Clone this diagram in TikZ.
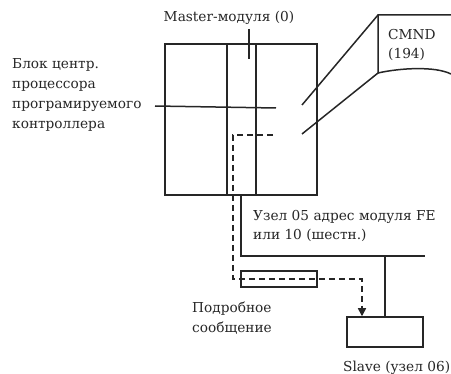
\documentclass[tikz,border=0pt]{standalone}
\usepackage{fontspec}
\setmainfont{DejaVu Serif}
\usetikzlibrary{arrows.meta}
\begin{document}
\begin{tikzpicture}[x=1pt,y=-1pt,
  ln/.style={line width=1.5pt,black!85},
  dsh/.style={line width=1.5pt,black!85,dash pattern=on 6pt off 4pt},
  lbl/.style={font=\fontsize{13.7}{19.5}\selectfont,text=black!85,inner sep=0pt},
  box/.style={draw,line width=1.5pt,black!85,inner sep=0pt}]
\useasboundingbox (0,0) rectangle (451,374);
% master module
\node[box,minimum width=152pt,minimum height=151pt] (master) at (241,119.5) {};
\coordinate (d1t) at (227,44); \coordinate (d1b) at (227,195);
\coordinate (d2t) at (256,44); \coordinate (d2b) at (256,195);
\draw[ln] (d1t) -- (d1b);
\draw[ln] (d2t) -- (d2b);
% labels
\node[lbl] (mlab) at (229,18) {Master-модуля (0)};
\coordinate (mp) at (249,59);
\draw[ln] (249,29) -- (mp);
\node[lbl,font=\fontsize{13.7}{20.2}\selectfont,anchor=north west,align=left] (cpu) at (12,58) {Блок центр.\\процессора\\програмируемого\\контроллера};
\coordinate (cpuS) at (155,106); \coordinate (cpuE) at (276,108);
\draw[ln] (cpuS) -- (cpuE);
% CMND callout
\coordinate (c1) at (378,15); \coordinate (c2) at (378,73);
\coordinate (c3) at (451,15); \coordinate (c4) at (451,74);
\coordinate (p1) at (302,105); \coordinate (p2) at (302,134);
\draw[ln] (p1) -- (c1) -- (c3);
\draw[ln] (p2) -- (c2) -- (c1);
\draw[ln] (c2) .. controls (400,68) and (435,66) .. (c4);
\node[lbl,anchor=west,align=left] (cmnd) at (388,45) {CMND\\(194)};
% dashed message path
\node[box,minimum width=76pt,minimum height=16pt] (msg) at (279,279) {};
\coordinate (q0) at (273,135); \coordinate (q1) at (233,135);
\coordinate (q2) at (233,279); \coordinate (q3) at (362,279);
\node[box,minimum width=76pt,minimum height=30pt] (slave) at (385,332) {};
\draw[dsh] (q0) -- (q1) -- (q2) -- (q3) -- (362,308);
\draw[-{Triangle[length=8pt,width=8pt]},ln] (362,306) -- (q3 |- slave.north);
% network line
\coordinate (n0) at (241,195); \coordinate (n1) at (241,256);
\coordinate (n2) at (425,256); \coordinate (n3) at (385,256);
\draw[ln] (n0) -- (n1) -- (n2);
\draw[ln] (n3) -- (slave.north);
% texts
\node[lbl,anchor=west,align=left] (node5) at (253,226) {Узел 05 адрес модуля FE\\или 10 (шестн.)};
\node[lbl,anchor=west,align=left] (detail) at (192,318) {Подробное\\сообщение};
\node[lbl,anchor=west] (slab) at (343,368) {Slave (узел 06)};
\end{tikzpicture}
\end{document}
